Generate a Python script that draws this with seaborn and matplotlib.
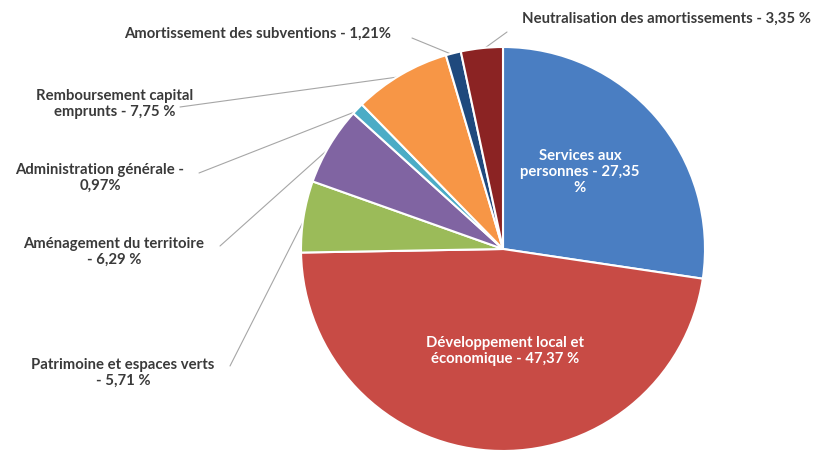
"""Pie chart of expense breakdown (French budget categories)."""

import matplotlib
matplotlib.use("Agg")
import matplotlib.pyplot as plt
import numpy as np
import seaborn as sns

# --- data ---
categories = [
    "Services aux personnes",
    "Développement local et économique",
    "Patrimoine et espaces verts",
    "Aménagement du territoire",
    "Administration générale",
    "Remboursement capital emprunts",
    "Amortissement des subventions",
    "Neutralisation des amortissements",
]
shares = [27.35, 47.37, 5.71, 6.29, 0.97, 7.75, 1.21, 3.35]
labels = [
    "Services aux\npersonnes - 27,35\n%",
    "Développement local et\néconomique - 47,37 %",
    "Patrimoine et espaces verts\n- 5,71 %",
    "Aménagement du territoire\n- 6,29 %",
    "Administration générale -\n0,97%",
    "Remboursement capital\nemprunts - 7,75 %",
    "Amortissement des subventions - 1,21%",
    "Neutralisation des amortissements - 3,35 %",
]
colors = ["#4A7EC2", "#C84B45", "#9BBB59", "#8064A2",
          "#4BACC6", "#F79646", "#1F497D", "#8B2323"]

sns.set_theme(style="white")
plt.rcParams["font.family"] = ["Lato", "DejaVu Sans"]

W, H = 820, 451
fig = plt.figure(figsize=(W / 100, H / 100), dpi=100)
ax = fig.add_axes([0, 0, 1, 1])

cx, cy, r = 503, H - 249, 202
wedges, _ = ax.pie(
    shares, colors=sns.color_palette(colors), startangle=90, counterclock=False,
    center=(cx, cy), radius=r,
    wedgeprops=dict(edgecolor="white", linewidth=1.5),
)
ax.set_xlim(0, W)
ax.set_ylim(0, H)
ax.set_aspect("equal")
ax.axis("off")

fs = 10.7

# inside labels (pixel positions, y from top)
inside = {0: (580, 172), 1: (505, 351)}
for i, (x, y) in inside.items():
    ax.text(x, H - y, labels[i], color="white", fontsize=fs, fontweight="bold",
            ha="center", va="center", linespacing=1.2)

# outside labels: text centre, leader start (pixels, y from top)
outside = {
    2: ((123, 373), (230, 366)),
    3: ((114, 252), (220, 246)),
    4: ((100, 178), (199, 173)),
    5: ((115, 104), (180, 107)),
    6: ((258, 34), (412, 38)),
    7: ((667, 19), (507, 32)),
}
grey = "#3A3A3A"
for i, ((tx, ty), (lx, ly)) in outside.items():
    w = wedges[i]
    ang = np.deg2rad((w.theta1 + w.theta2) / 2)
    px = cx + r * 0.99 * np.cos(ang)
    py = cy + r * 0.99 * np.sin(ang)
    ax.plot([lx, px], [H - ly, py], color="#A6A6A6", linewidth=0.8, zorder=0.5)
    ax.text(tx, H - ty, labels[i], color=grey, fontsize=fs, fontweight="bold",
            ha="center", va="center", linespacing=1.2)

fig.savefig("out.png", dpi=100, facecolor="white")
